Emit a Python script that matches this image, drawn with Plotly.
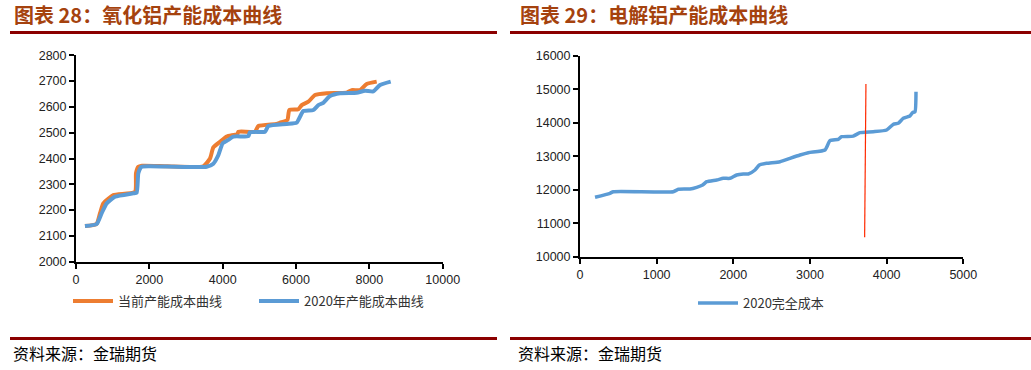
import plotly.graph_objects as go

# ---- Left chart: 氧化铝产能成本曲线 ----
cur_x = [245, 560, 655, 745, 1018, 1609, 1636, 1700, 1800, 2500, 3473, 3655, 3745, 3927, 4109, 4400, 4430,
         4880, 4973, 5473, 5564, 5763, 5818, 6064, 6155, 6336, 6518, 6836, 7382, 7518, 7745, 7927, 8200]
cur_y = [2138, 2146, 2188, 2226, 2258, 2271, 2343, 2368, 2372, 2370, 2370, 2400, 2443, 2465, 2485, 2495, 2504,
         2504, 2526, 2534, 2539, 2549, 2588, 2591, 2607, 2620, 2646, 2653, 2655, 2665, 2665, 2689, 2698]

y2020_x = [245, 564, 700, 837, 1064, 1563, 1655, 1700, 1790, 2018, 3564, 3745, 3882, 4000, 4155, 4290, 4700,
           4745, 5155, 5245, 5745, 6018, 6109, 6200, 6473, 6609, 6745, 6927, 7200, 7655, 7882, 8109, 8291, 8582]
y2020_y = [2138, 2146, 2188, 2226, 2252, 2265, 2268, 2343, 2368, 2370, 2368, 2380, 2413, 2459, 2472, 2485, 2487,
           2502, 2504, 2526, 2534, 2539, 2562, 2584, 2588, 2607, 2616, 2642, 2653, 2655, 2663, 2660, 2685, 2698]

# ---- Right chart: 电解铝产能成本曲线 ----
al_x = [196, 391, 435, 1217, 1283, 1435, 1522, 1600, 1652, 1783, 1870, 1957, 2043, 2130, 2196, 2283, 2339,
        2435, 2609, 2739, 2870, 2978, 3196, 3261, 3370, 3413, 3565, 3652, 3826, 4000, 4087, 4152, 4217,
        4304, 4339, 4370, 4383]
al_y = [11773, 11893, 11940, 11940, 12012, 12020, 12071, 12140, 12239, 12290, 12340, 12340, 12439, 12469,
        12469, 12588, 12737, 12788, 12836, 12937, 13036, 13105, 13185, 13463, 13504, 13582, 13600, 13702,
        13731, 13782, 13952, 13982, 14131, 14200, 14300, 14330, 14925]

marker_x = [3713, 3730]
marker_y = [10579, 15155]

ORANGE = "#ED7D31"
BLUE = "#5B9BD5"
TITLE_C = "#A5420E"
RULE_C = "#8B0000"

W, H = 1031, 370

fig = go.Figure()
fig.add_trace(go.Scatter(x=cur_x, y=cur_y, mode="lines", name="当前产能成本曲线",
                         line=dict(color=ORANGE, width=4, shape="spline", smoothing=0.5),
                         xaxis="x", yaxis="y", legend="legend"))
fig.add_trace(go.Scatter(x=y2020_x, y=y2020_y, mode="lines", name="2020年产能成本曲线",
                         line=dict(color=BLUE, width=4, shape="spline", smoothing=0.5),
                         xaxis="x", yaxis="y", legend="legend"))
fig.add_trace(go.Scatter(x=al_x, y=al_y, mode="lines", name="2020完全成本",
                         line=dict(color=BLUE, width=3.5, shape="spline", smoothing=0.5),
                         xaxis="x2", yaxis="y2", legend="legend2"))
fig.add_trace(go.Scatter(x=marker_x, y=marker_y, mode="lines", showlegend=False,
                         line=dict(color="#FF2A00", width=1.2),
                         xaxis="x2", yaxis="y2"))

axis_common = dict(showgrid=False, zeroline=False, showline=True, linecolor="black", linewidth=2,
                   ticks="outside", ticklen=5, tickwidth=2, tickcolor="black", automargin=False,
                   tickformat="d",
                   tickfont=dict(family="Liberation Sans, Arial", size=12.5, color="#222222"))

fig.update_layout(
    width=W, height=H,
    margin=dict(l=0, r=0, t=0, b=0),
    paper_bgcolor="white", plot_bgcolor="white",
    xaxis=dict(domain=[76 / W, 442.7 / W], range=[0, 10000], tickvals=[0, 2000, 4000, 6000, 8000, 10000],
               anchor="y", **axis_common),
    yaxis=dict(domain=[1 - 261.7 / H, 1 - 55.3 / H], range=[2000, 2800], dtick=100,
               anchor="x", **axis_common),
    xaxis2=dict(domain=[580 / W, 963.3 / W], range=[0, 5000], dtick=1000, anchor="y2", **axis_common),
    yaxis2=dict(domain=[1 - 256.7 / H, 1 - 55.7 / H], range=[10000, 16000], dtick=1000,
                anchor="x2", **axis_common),
    legend=dict(orientation="h", x=68 / W, y=1 - 286 / H, xanchor="left", yanchor="top",
                font=dict(family="Noto Sans CJK SC", size=13, color="#333333"),
                bgcolor="rgba(0,0,0,0)", itemwidth=40, tracegroupgap=0, entrywidth=131),
    legend2=dict(orientation="h", x=693 / W, y=1 - 288 / H, xanchor="left", yanchor="top",
                 font=dict(family="Noto Sans CJK SC", size=13, color="#333333"),
                 bgcolor="rgba(0,0,0,0)", itemwidth=40),
    showlegend=True,
)

# Titles
for txt, x0 in [("图表 28：氧化铝产能成本曲线", 12), ("图表 29：电解铝产能成本曲线", 518)]:
    fig.add_annotation(text="<b>" + txt + "</b>", x=x0 / W, y=1 - 14 / H, xref="paper", yref="paper",
                       xanchor="left", yanchor="middle", showarrow=False,
                       font=dict(family="Noto Sans CJK SC", size=20, color=TITLE_C))

# Footers
for x0 in [11, 516]:
    fig.add_annotation(text="资料来源：金瑞期货", x=x0 / W, y=1 - 353 / H, xref="paper", yref="paper",
                       xanchor="left", yanchor="middle", showarrow=False,
                       font=dict(family="Noto Sans CJK SC", size=16, color="black"))

# Rules
for yy in [32.5, 338.5]:
    for xa, xb in [(10, 497), (510, 1031)]:
        fig.add_shape(type="line", xref="paper", yref="paper", x0=xa / W, x1=xb / W,
                      y0=1 - yy / H, y1=1 - yy / H, line=dict(color=RULE_C, width=3))

fig.write_html("out.html", config={"displayModeBar": False},
               post_script="document.body.style.margin='0';document.body.style.overflow='hidden';")
